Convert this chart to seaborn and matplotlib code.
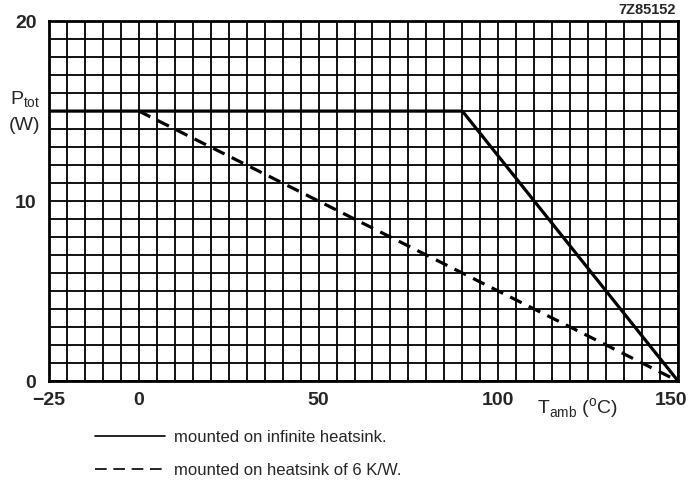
import numpy as np
import pandas as pd
import matplotlib
matplotlib.use("Agg")
import matplotlib.pyplot as plt
import matplotlib.transforms as mtransforms
import seaborn as sns

# derating curves
t_infinite = [-25, 90, 150]
p_infinite = [15, 15, 0]
t_6kw = [0, 150]
p_6kw = [15, 0]
labels = ["mounted on infinite heatsink.", "mounted on heatsink of 6 K/W."]

x_ticks = [-25, 0, 50, 100, 150]
y_ticks = [0, 10, 20]

df = pd.DataFrame({
    "T": t_infinite + t_6kw,
    "P": p_infinite + p_6kw,
    "mount": [labels[0]] * len(t_infinite) + [labels[1]] * len(t_6kw),
})

sns.set_theme(style="white")
plt.rcParams["font.family"] = ["Liberation Sans", "DejaVu Sans"]

fig = plt.figure(figsize=(6.92, 4.91), dpi=100)
ax = fig.add_axes([0.0708, 0.224, 0.909, 0.733])

sns.lineplot(data=df, x="T", y="P", style="mount", dashes=[(None, None), (4, 2.5)],
             color="black", linewidth=2.3, ax=ax, legend=True)

ax.set_xlim(-25, 150)
ax.set_ylim(0, 20)
ax.set_xticks(x_ticks)
ax.set_yticks(y_ticks)
ax.set_xticks(np.arange(-25, 151, 5), minor=True)
ax.set_yticks(np.arange(0, 21, 1), minor=True)
ax.grid(which="both", color="black", linewidth=1.3)
ax.set_axisbelow(True)
ax.tick_params(which="both", length=0)
ax.tick_params(axis="x", labelsize=14, pad=8)
ax.tick_params(axis="y", labelsize=14, pad=9)
for t in ax.get_xticklabels() + ax.get_yticklabels():
    t.set_fontweight("bold")
# pull the last x label in a little so it stays on the page
last = ax.get_xticklabels()[-1]
last.set_transform(last.get_transform() + mtransforms.ScaledTranslation(-0.07, 0, fig.dpi_scale_trans))
for s in ax.spines.values():
    s.set_color("black")
    s.set_linewidth(2)
ax.set_xlabel("")
ax.set_ylabel("")

fig.text(0.036, 0.797, r"P$_{\mathregular{tot}}$", fontsize=14, ha="center", va="center")
fig.text(0.036, 0.745, "(W)", fontsize=14, ha="center", va="center")
fig.text(0.835, 0.168, r"T$_{\mathregular{amb}}$ ($^{\mathregular{o}}$C)", fontsize=14,
         ha="center", va="center")
fig.text(0.977, 0.966, "7Z85152", fontsize=10.5, ha="right", va="bottom", fontweight="bold")

leg = ax.legend(loc="upper left", bbox_to_anchor=(0.05, -0.095), frameon=False,
                fontsize=12, handlelength=4.2, labelspacing=1.05, handletextpad=0.5)
for h in leg.get_lines():
    h.set_linewidth(1.2)
leg.get_lines()[1].set_dashes((7, 4))

fig.savefig("out.png", dpi=100)
